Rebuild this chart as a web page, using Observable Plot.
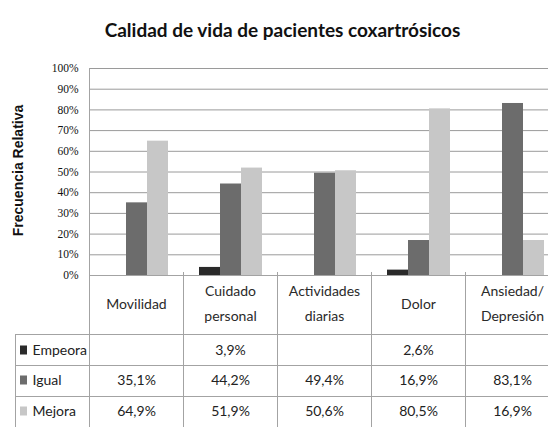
<!DOCTYPE html>
<html>
<head>
<meta charset="utf-8">
<script src="https://cdn.jsdelivr.net/npm/d3@7"></script>
<script src="https://cdn.jsdelivr.net/npm/@observablehq/plot@0.6"></script>
<style>
  html, body { margin: 0; padding: 0; background: #fff; }
  #chart svg { display: block; }
</style>
</head>
<body>
<div id="chart"></div>
<script>
const title = "Calidad de vida de pacientes coxartrósicos";
const yTitle = "Frecuencia Relativa";
const categories = ["Movilidad", "Cuidado personal", "Actividades diarias", "Dolor", "Ansiedad/ Depresión"];
const categoryLabels = ["Movilidad", "Cuidado\npersonal", "Actividades\ndiarias", "Dolor", "Ansiedad/\nDepresión"];
const series = ["Empeora", "Igual", "Mejora"];
const empeora = [null, 0.039, null, 0.026, null];
const igual = [0.351, 0.442, 0.494, 0.169, 0.831];
const mejora = [0.649, 0.519, 0.506, 0.805, 0.169];
const colors = ["#2a2a2a", "#6c6c6c", "#c7c7c7"];
const yTicks = [0, 0.1, 0.2, 0.3, 0.4, 0.5, 0.6, 0.7, 0.8, 0.9, 1.0];

const values = [empeora, igual, mejora];
const fmt = v => v == null ? "" : (v * 100).toFixed(1).replace(".", ",") + "%";

const W = 548, H = 427;
const mLeft = 89, mTop = 68, yBottom = 275;
const band = 94;
const rowDy = [75, 105, 136];        // table rows (below the frame bottom)
const barInsets = [[16, 57], [37, 36], [58, 15]];
const tableFont = "Lato, 'Open Sans', sans-serif";

const marks = [
  Plot.gridY(yTicks, {stroke: "#9a9a9a", strokeOpacity: 1, strokeWidth: 1}),
  Plot.axisY(yTicks, {
    tickFormat: d3.format(".0%"), tickSize: 0, tickPadding: 11, label: null,
    fontFamily: "'Liberation Serif', 'DejaVu Serif', serif", fontSize: 11.5, fill: "#111"
  })
];

series.forEach((s, i) => {
  const data = categories.map((c, j) => ({category: c, value: values[i][j]})).filter(d => d.value != null);
  marks.push(Plot.barY(data, {
    x: "category", y: "value", fill: colors[i],
    insetLeft: barInsets[i][0], insetRight: barInsets[i][1]
  }));
});

// header row: category labels
marks.push(Plot.text(categories, {
  x: d => d, text: (d, j) => categoryLabels[j],
  frameAnchor: "bottom", dy: 25, lineAnchor: "middle", lineHeight: 1.8,
  fontFamily: tableFont, fontSize: 14, fill: "#2a2a2a"
}));

// value rows
series.forEach((s, i) => {
  marks.push(Plot.text(categories, {
    x: d => d, text: (d, j) => fmt(values[i][j]),
    frameAnchor: "bottom", dy: rowDy[i], lineAnchor: "middle",
    fontFamily: tableFont, fontSize: 14, fill: "#222"
  }));
  marks.push(Plot.text([s], {
    text: d => d, frameAnchor: "bottom-left", dx: 32 - mLeft, dy: rowDy[i],
    textAnchor: "start", lineAnchor: "middle",
    fontFamily: tableFont, fontSize: 14, fill: "#222"
  }));
});

// title and y label
marks.push(Plot.text([title], {
  text: d => d, frameAnchor: "top", dx: (282 - (mLeft + W) / 2), dy: 30 - mTop,
  lineAnchor: "middle", fontFamily: tableFont, fontWeight: "bold", fontSize: 19, fill: "#111"
}));
marks.push(Plot.text([yTitle], {
  text: d => d, frameAnchor: "left", textAnchor: "middle", dx: 18 - mLeft, dy: 170 - (mTop + yBottom) / 2,
  rotate: -90, lineAnchor: "middle", fontFamily: "'Liberation Sans', Arial, sans-serif",
  fontWeight: "bold", fontSize: 14, fill: "#111"
}));

const plot = Plot.plot({
  width: W, height: H,
  marginLeft: mLeft, marginRight: 0, marginTop: mTop, marginBottom: H - yBottom,
  style: {background: "#fff", overflow: "visible"},
  x: {domain: categories, range: [mLeft, mLeft + band * categories.length], padding: 0, axis: null},
  y: {domain: [0, 1], range: [yBottom, mTop], axis: null},
  marks
});

// table grid lines and legend swatches
const svg = d3.select(plot);
const xs = plot.scale("x");
const g = svg.append("g").attr("stroke", "#a3a3a3").attr("stroke-width", 1).attr("shape-rendering", "crispEdges");
const line = (x1, y1, x2, y2) => g.append("line").attr("x1", x1).attr("y1", y1).attr("x2", x2).attr("y2", y2);
line(mLeft, mTop, mLeft, H);
line(mLeft, yBottom, W, yBottom);
categories.forEach((c, j) => {
  const x0 = xs.apply(c);
  if (j > 0) line(x0, yBottom - 3, x0, H);
});
const rowLines = [yBottom + 59, yBottom + 90, yBottom + 121];
rowLines.forEach(y => line(15, y, W, y));
line(15, rowLines[0], 15, H);
series.forEach((s, i) => {
  svg.append("rect").attr("x", 20).attr("y", yBottom + rowDy[i] - 4.5).attr("width", 7).attr("height", 9)
    .attr("fill", colors[i]);
});

document.getElementById("chart").appendChild(plot);
</script>
</body>
</html>
